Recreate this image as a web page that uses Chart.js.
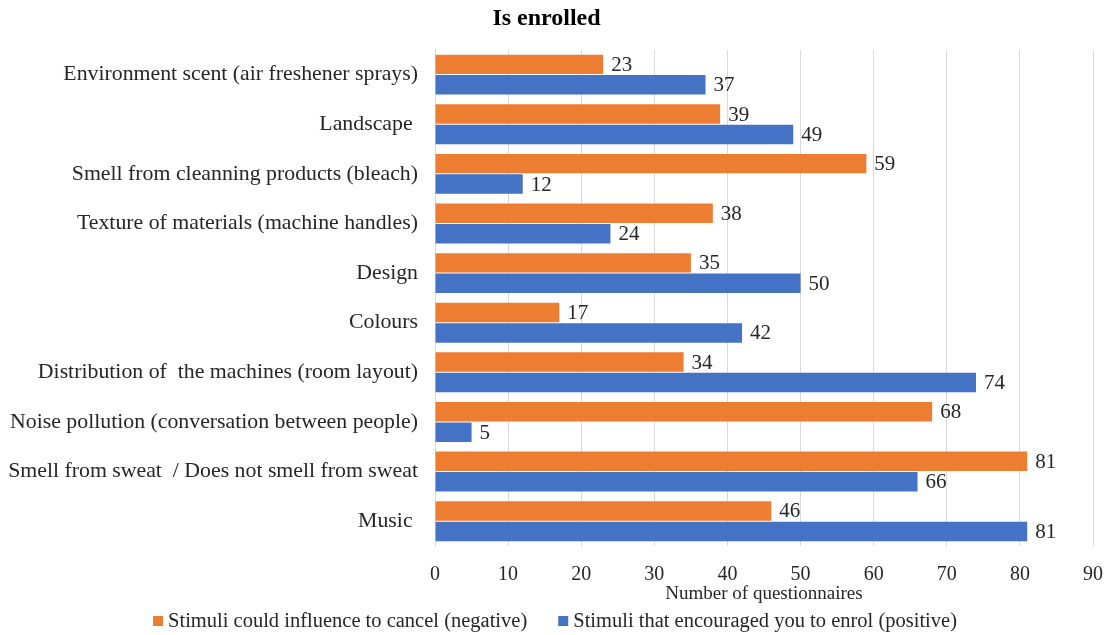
<!DOCTYPE html>
<html>
<head>
<meta charset="utf-8">
<script src="https://cdn.jsdelivr.net/npm/chart.js@4/dist/chart.umd.min.js"></script>
<style>
  html, body { margin: 0; padding: 0; background: #fff; }
  #wrap { width: 1110px; height: 635px; }
</style>
</head>
<body>
<div id="wrap"><canvas id="chart" width="1110" height="635"></canvas></div>
<script>
// stimuli, top to bottom
const stimuli = [
  'Environment scent (air freshener sprays)',
  'Landscape ',
  'Smell from cleanning products (bleach)',
  'Texture of materials (machine handles)',
  'Design',
  'Colours',
  'Distribution of  the machines (room layout)',
  'Noise pollution (conversation between people)',
  'Smell from sweat  / Does not smell from sweat',
  'Music '
];
const negativeCounts = [23, 39, 59, 38, 35, 17, 34, 68, 81, 46];
const positiveCounts = [37, 49, 12, 24, 50, 42, 74, 5, 66, 81];
const xTicks = [0, 10, 20, 30, 40, 50, 60, 70, 80, 90];

const serif = '"Liberation Serif", "Times New Roman", serif';
const textColor = '#262626';

// writes each bar's count just past its end
const valueLabels = {
  id: 'valueLabels',
  afterDatasetsDraw(chart) {
    const ctx = chart.ctx;
    ctx.save();
    ctx.font = '21px ' + serif;
    ctx.fillStyle = textColor;
    ctx.textAlign = 'left';
    ctx.textBaseline = 'middle';
    chart.data.datasets.forEach((ds, i) => {
      chart.getDatasetMeta(i).data.forEach((bar, j) => {
        ctx.fillText(String(ds.data[j]), bar.x + 8, bar.y + 1);
      });
    });
    ctx.restore();
  }
};

// legend row under the axis title, squares + dataset names, centred
const bottomLegend = {
  id: 'bottomLegend',
  afterDraw(chart) {
    const ctx = chart.ctx;
    const box = 10, gapText = 5, gapItem = 31, y = 621;
    ctx.save();
    ctx.font = '20.5px ' + serif;
    ctx.textBaseline = 'middle';
    ctx.textAlign = 'left';
    const items = chart.data.datasets.map(ds => ({
      text: ds.label, color: ds.backgroundColor, w: ctx.measureText(ds.label).width
    }));
    let total = items.reduce((s, it) => s + box + gapText + it.w, 0) + gapItem * (items.length - 1);
    let x = (chart.width - total) / 2;
    items.forEach(it => {
      ctx.fillStyle = it.color;
      ctx.fillRect(x, y - box / 2, box, box);
      x += box + gapText;
      ctx.fillStyle = textColor;
      ctx.fillText(it.text, x, y + 1);
      x += it.w + gapItem;
    });
    ctx.restore();
  }
};

new Chart(document.getElementById('chart'), {
  type: 'bar',
  data: {
    labels: stimuli,
    datasets: [
      {
        label: 'Stimuli could influence to cancel (negative)',
        data: negativeCounts,
        backgroundColor: '#ED7D31',
        barPercentage: 0.95,
        categoryPercentage: 0.825
      },
      {
        label: 'Stimuli that encouraged you to enrol (positive)',
        data: positiveCounts,
        backgroundColor: '#4472C4',
        barPercentage: 0.95,
        categoryPercentage: 0.825
      }
    ]
  },
  options: {
    indexAxis: 'y',
    responsive: false,
    animation: false,
    layout: { padding: { left: 0, right: 17, top: 0, bottom: 30 } },
    plugins: {
      title: {
        display: true,
        text: 'Is enrolled',
        color: '#000',
        font: { family: serif, size: 24, weight: 'bold' },
        padding: { top: 4, bottom: 17 }
      },
      legend: { display: false },
      tooltip: { enabled: false }
    },
    scales: {
      x: {
        min: 0,
        max: 90,
        afterBuildTicks: (scale) => { scale.ticks = xTicks.map(v => ({ value: v })); },
        afterFit: (scale) => {
          scale.height = 59;
          scale.paddingRight = 0;
        },
        grid: { color: '#d9d9d9', drawTicks: false },
        border: { display: false },
        ticks: { color: textColor, font: { family: serif, size: 20 }, padding: 17, maxRotation: 0 },
        title: {
          display: true,
          text: 'Number of questionnaires',
          color: textColor,
          font: { family: serif, size: 19 },
          padding: { top: 0, bottom: 0 }
        }
      },
      y: {
        afterFit: (scale) => { scale.width = 435; },
        grid: { display: false, drawTicks: false },
        border: { color: '#d9d9d9' },
        ticks: { color: textColor, font: { family: serif, size: 21.8 }, padding: 17, autoSkip: false }
      }
    }
  },
  plugins: [valueLabels, bottomLegend]
});
</script>
</body>
</html>
